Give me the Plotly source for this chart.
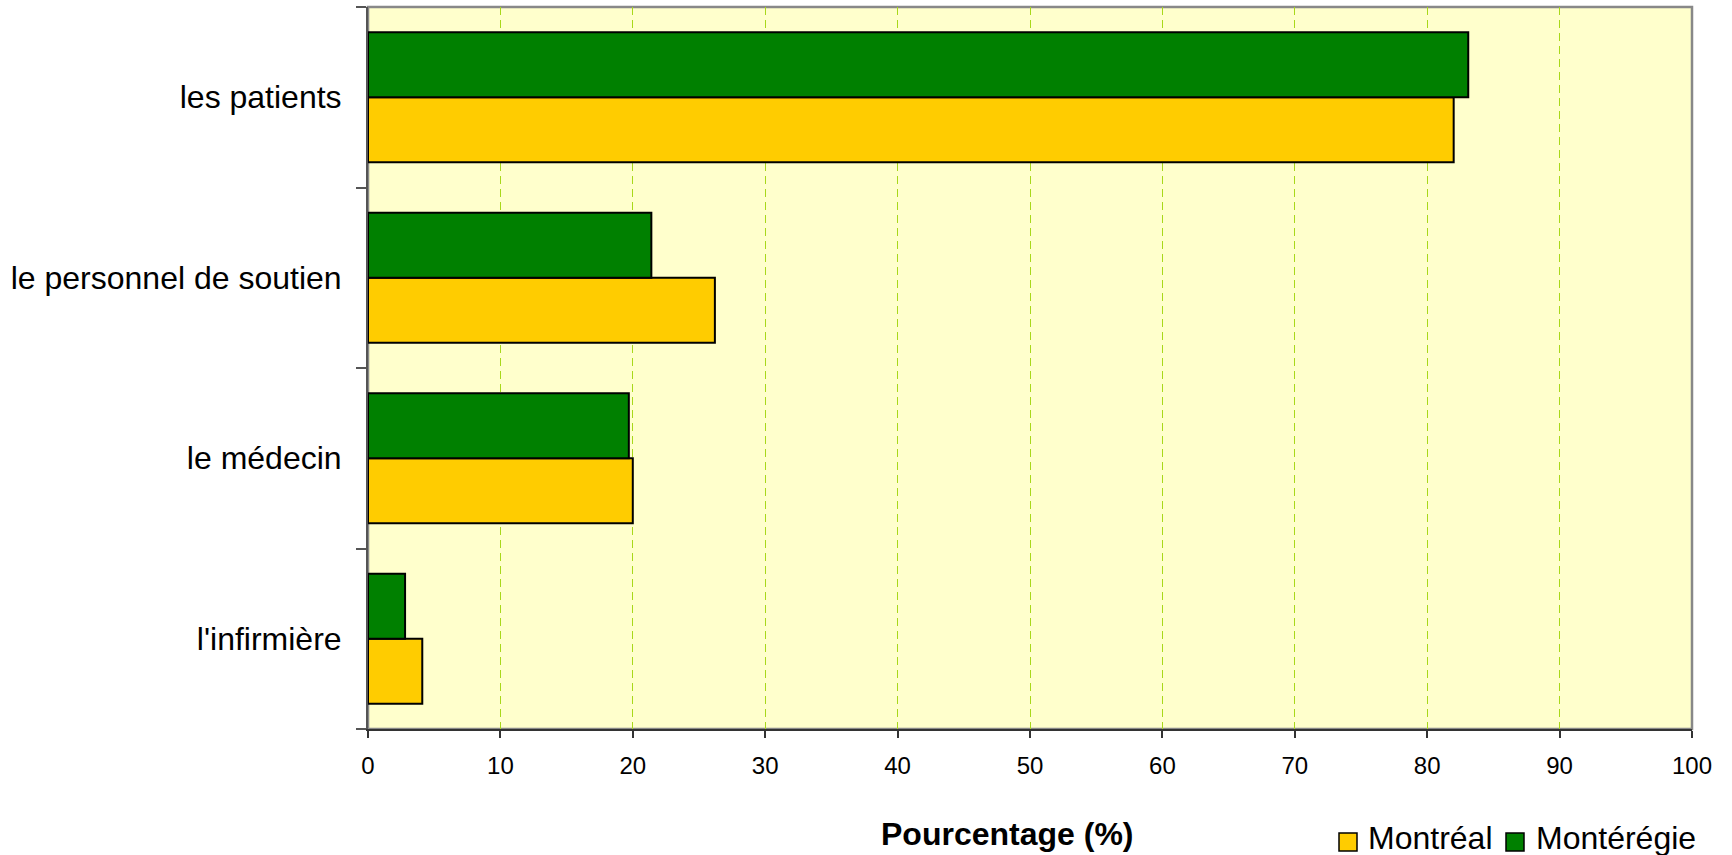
import plotly.graph_objects as go

categories = ["l'infirmière", "le médecin", "le personnel de soutien", "les patients"]
montreal = [4.1, 20.0, 26.2, 82.0]
monteregie = [2.8, 19.7, 21.4, 83.1]
series_names = ["Montréal", "Montérégie"]
series_colors = ["#FFCC00", "#008000"]
x_ticks = [0, 10, 20, 30, 40, 50, 60, 70, 80, 90, 100]

FONT = "Arial, 'Liberation Sans', sans-serif"

fig = go.Figure()
for vals, name, col in zip([montreal, monteregie], series_names, series_colors):
    fig.add_trace(go.Bar(
        y=categories, x=vals, name=name, orientation="h",
        marker=dict(color=col, line=dict(color="#000000", width=2)),
        showlegend=False,
    ))

W, H = 1732, 855
ml, mr, mt, mb = 368, 40, 7, 126
PW, PH = W - ml - mr, H - mt - mb


def px(fx):
    return (fx - ml) / PW


def py(fy):
    return (H - mb - fy) / PH


fig.update_layout(
    width=W, height=H,
    margin=dict(l=ml, r=mr, t=mt, b=mb, pad=0, autoexpand=False),
    paper_bgcolor="white",
    plot_bgcolor="#FFFFCC",
    barmode="group",
    bargap=0.28,
    bargroupgap=0,
    font=dict(family=FONT, color="#000000"),
    showlegend=False,
)

fig.update_xaxes(
    range=[0, 100],
    tickvals=x_ticks,
    ticktext=[str(v) for v in x_ticks],
    tickfont=dict(size=24, family=FONT),
    ticks="outside", ticklen=7, tickwidth=1.5, tickcolor="#333333",
    ticklabelstandoff=7,
    showline=True, linecolor="#333333", linewidth=2,
    showgrid=True, gridcolor="#A8D81A", gridwidth=1, griddash="8px,5px",
    zeroline=False,
    fixedrange=True,
    automargin=False,
)
fig.update_yaxes(
    type="category",
    categoryorder="array", categoryarray=categories,
    range=[-0.5, 3.5],
    tickfont=dict(size=32, family=FONT),
    ticks="outside", ticklen=10, tickwidth=1.5, tickcolor="#555555",
    tickson="boundaries",
    ticklabelstandoff=18,
    showline=True, linecolor="#555555", linewidth=2,
    showgrid=False, zeroline=False,
    fixedrange=True,
    automargin=False,
)

# grey frame (top and right border of plot area)
fig.add_shape(type="rect", xref="paper", yref="paper", x0=0, x1=1, y0=0, y1=1,
              line=dict(color="#888888", width=2.5), fillcolor="rgba(0,0,0,0)", layer="below")

# axis title
fig.add_annotation(
    text="<b>Pourcentage (%)</b>",
    xref="paper", yref="paper",
    x=px(1007), y=py(834),
    xanchor="center", yanchor="middle", showarrow=False,
    font=dict(size=32, family=FONT, color="#000000"),
)

# legend (bottom right)
legend_sq_left = [1339, 1506]
legend_txt_left = [1366, 1534]
sq_top, sq_size, txt_mid = 833, 18, 838
for name, col, sx, tx in zip(series_names, series_colors, legend_sq_left, legend_txt_left):
    fig.add_shape(type="rect", xref="paper", yref="paper",
                  x0=px(sx), x1=px(sx + sq_size), y0=py(sq_top + sq_size), y1=py(sq_top),
                  line=dict(color="#000000", width=1.5), fillcolor=col, layer="above")
    fig.add_annotation(
        text=name, xref="paper", yref="paper", x=px(tx), y=py(txt_mid),
        xanchor="left", yanchor="middle", showarrow=False,
        font=dict(size=32, family=FONT, color="#000000"),
    )

# remove the default 8px page margin so the figure fills the window exactly
fig.write_html(
    "out.html",
    config={"displayModeBar": False, "staticPlot": False},
    post_script="document.body.style.margin='0';",
)
